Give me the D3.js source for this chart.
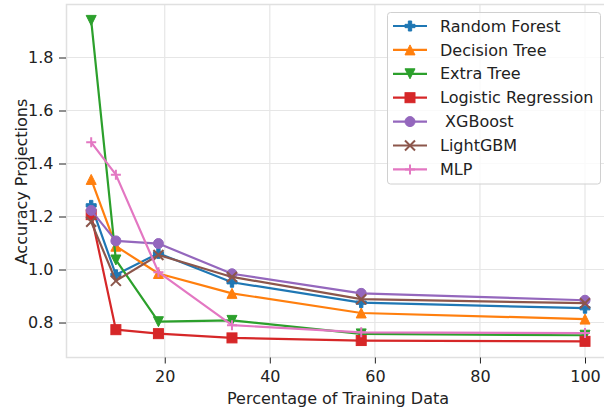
<!DOCTYPE html>
<html>
<head>
<meta charset="utf-8">
<script src="https://cdn.jsdelivr.net/npm/d3@7"></script>
<style>
  body { margin: 0; background: #fff; }
  svg { display: block; font-family: "DejaVu Sans", sans-serif; }
</style>
</head>
<body>
<div id="chart"></div>
<script>
// data
var trainPercent = [6.0, 10.7, 18.8, 32.8, 57.4, 100];
var seriesNames = ["Random Forest", "Decision Tree", "Extra Tree", "Logistic Regression", " XGBoost", "LightGBM", "MLP"];
var randomForest = [1.242, 0.98, 1.061, 0.952, 0.875, 0.854];
var decisionTree = [1.34, 1.088, 0.985, 0.91, 0.836, 0.813];
var extraTree = [1.94, 1.036, 0.803, 0.808, 0.757, 0.752];
var logisticRegression = [1.207, 0.773, 0.758, 0.742, 0.732, 0.729];
var xgBoost = [1.223, 1.108, 1.098, 0.984, 0.91, 0.884];
var lightGBM = [1.18, 0.957, 1.055, 0.972, 0.888, 0.873];
var mlp = [1.48, 1.358, 0.99, 0.79, 0.763, 0.76];
var xTicks = [20, 40, 60, 80, 100];
var yTicks = [0.8, 1.0, 1.2, 1.4, 1.6, 1.8];

var seriesValues = [randomForest, decisionTree, extraTree, logisticRegression, xgBoost, lightGBM, mlp];
var colors = ["#1f77b4", "#ff7f0e", "#2ca02c", "#d62728", "#9467bd", "#8c564b", "#e377c2"];
var markers = ["P", "^", "v", "s", "o", "x", "+"];

var width = 604, height = 411;
var plot = {left: 66.5, top: 4.5, right: 609.7, bottom: 357.5};

var svg = d3.select("#chart").append("svg")
  .attr("width", width).attr("height", height);

var x = d3.scaleLinear().domain([1.3, 104.7]).range([plot.left, plot.right]);
var y = d3.scaleLinear().domain([0.668, 2.0]).range([plot.bottom, plot.top]);

// grid
svg.append("g").selectAll("line.gx").data(xTicks).enter().append("line")
  .attr("x1", function(d) { return x(d); }).attr("x2", function(d) { return x(d); })
  .attr("y1", plot.top).attr("y2", plot.bottom)
  .attr("stroke", "#e6e6e6").attr("stroke-width", 1.2);
svg.append("g").selectAll("line.gy").data(yTicks).enter().append("line")
  .attr("x1", plot.left).attr("x2", plot.right)
  .attr("y1", function(d) { return y(d); }).attr("y2", function(d) { return y(d); })
  .attr("stroke", "#e6e6e6").attr("stroke-width", 1.2);

// frame
svg.append("rect")
  .attr("x", plot.left).attr("y", plot.top)
  .attr("width", plot.right - plot.left).attr("height", plot.bottom - plot.top)
  .attr("fill", "none").attr("stroke", "#e0e0e0").attr("stroke-width", 1.5);

// axes
var xAxis = d3.axisBottom(x).tickValues(xTicks).tickSize(6).tickPadding(7).tickFormat(d3.format("d"));
var gx = svg.append("g").attr("transform", "translate(0," + plot.bottom + ")").call(xAxis);
gx.select(".domain").remove();
gx.selectAll("line").attr("stroke", "#222").attr("stroke-width", 1);
gx.selectAll("text").attr("fill", "#222").style("font-size", "16px").style("font-family", "DejaVu Sans");

var yAxis = d3.axisLeft(y).tickValues(yTicks).tickSize(7).tickPadding(5.5).tickFormat(d3.format(".1f"));
var gy = svg.append("g").attr("transform", "translate(" + (plot.left - 0.5) + ",0)").call(yAxis);
gy.select(".domain").remove();
gy.selectAll("line").attr("stroke", "#222").attr("stroke-width", 1);
gy.selectAll("text").attr("fill", "#222").style("font-size", "16px").style("font-family", "DejaVu Sans");

svg.append("text")
  .attr("x", 338).attr("y", 404)
  .attr("text-anchor", "middle")
  .attr("fill", "#222").style("font-size", "16px")
  .text("Percentage of Training Data");

svg.append("text")
  .attr("transform", "translate(26.5,181.5) rotate(-90)")
  .attr("text-anchor", "middle")
  .attr("fill", "#222").style("font-size", "16px")
  .text("Accuracy Projections");

// marker drawing, m = marker size in px
function drawMarker(g, type, color, m) {
  var h = m / 2;
  if (type == "o") {
    g.append("circle").attr("r", h).attr("fill", color).attr("stroke", color).attr("stroke-width", 1);
  } else if (type == "s") {
    g.append("rect").attr("x", -h).attr("y", -h).attr("width", m).attr("height", m)
      .attr("fill", color).attr("stroke", color).attr("stroke-width", 1);
  } else if (type == "^") {
    g.append("path").attr("d", "M0," + (-h) + "L" + h + "," + h + "L" + (-h) + "," + h + "Z")
      .attr("fill", color).attr("stroke", color).attr("stroke-width", 1).attr("stroke-linejoin", "miter");
  } else if (type == "v") {
    g.append("path").attr("d", "M0," + h + "L" + h + "," + (-h) + "L" + (-h) + "," + (-h) + "Z")
      .attr("fill", color).attr("stroke", color).attr("stroke-width", 1).attr("stroke-linejoin", "miter");
  } else if (type == "P") {
    var a = m / 6;
    g.append("path").attr("d",
      "M" + (-a) + "," + (-h) + "H" + a + "V" + (-a) + "H" + h + "V" + a + "H" + a + "V" + h +
      "H" + (-a) + "V" + a + "H" + (-h) + "V" + (-a) + "H" + (-a) + "Z")
      .attr("fill", color).attr("stroke", color).attr("stroke-width", 1);
  } else if (type == "x") {
    g.append("path").attr("d", "M" + (-h) + "," + (-h) + "L" + h + "," + h + "M" + (-h) + "," + h + "L" + h + "," + (-h))
      .attr("fill", "none").attr("stroke", color).attr("stroke-width", 2);
  } else if (type == "+") {
    g.append("path").attr("d", "M" + (-h) + ",0H" + h + "M0," + (-h) + "V" + h)
      .attr("fill", "none").attr("stroke", color).attr("stroke-width", 2);
  }
}

var line = d3.line()
  .x(function(d, i) { return x(trainPercent[i]); })
  .y(function(d) { return y(d); });

var plotArea = svg.append("g");
seriesValues.forEach(function(values, s) {
  var g = plotArea.append("g").attr("class", "series");
  g.append("path")
    .attr("d", line(values))
    .attr("fill", "none")
    .attr("stroke", colors[s])
    .attr("stroke-width", 2.2)
    .attr("stroke-linejoin", "round");
  values.forEach(function(v, i) {
    var mg = g.append("g").attr("transform", "translate(" + x(trainPercent[i]) + "," + y(v) + ")");
    drawMarker(mg, markers[s], colors[s], 10);
  });
});

// legend
var legend = svg.append("g");
legend.append("rect")
  .attr("x", 387.5).attr("y", 12.5).attr("width", 213).attr("height", 171.5)
  .attr("rx", 3).attr("ry", 3)
  .attr("fill", "#fff").attr("fill-opacity", 0.8)
  .attr("stroke", "#d0d0d0").attr("stroke-width", 1);

seriesNames.forEach(function(name, s) {
  var ly = 26 + s * 23.9;
  var lg = legend.append("g");
  lg.append("line")
    .attr("x1", 393).attr("x2", 427).attr("y1", ly).attr("y2", ly)
    .attr("stroke", colors[s]).attr("stroke-width", 2.2);
  var mg = lg.append("g").attr("transform", "translate(410," + ly + ")");
  drawMarker(mg, markers[s], colors[s], 10);
  lg.append("text")
    .attr("x", 440).attr("y", ly)
    .attr("dy", "0.35em")
    .attr("fill", "#222").style("font-size", "16px")
    .style("white-space", "pre")
    .attr("xml:space", "preserve")
    .text(name);
});
</script>
</body>
</html>
